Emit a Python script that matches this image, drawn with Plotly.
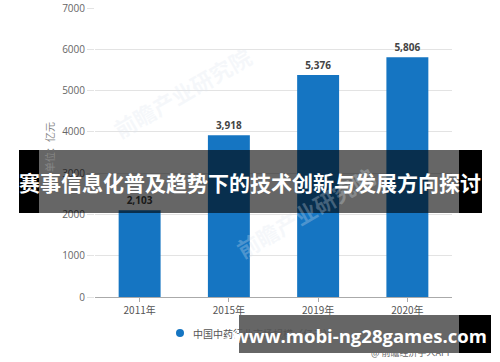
import plotly.graph_objects as go

categories = ["2011年", "2015年", "2019年", "2020年"]
values = [2103, 3918, 5376, 5806]
y_ticks = [0, 1000, 2000, 3000, 4000, 5000, 6000, 7000]
legend_label = "中国中药行业市场规模（亿元）"
y_title = "单位：亿元"
banner_title = "赛事信息化普及趋势下的技术创新与发展方向探讨"
banner_url = "www.mobi-ng28games.com"
source_text = "@ 前瞻经济学人APP"
watermark = "前瞻产业研究院"

W, H = 500, 362
ML, MR, MT, MB = 95, 48, 8, 65
PW, PH = W - ML - MR, H - MT - MB


def px(x):
    return (x - ML) / PW


def py(y):
    return (H - MB - y) / PH


CJK = "Noto Sans CJK SC"
fig = go.Figure()
fig.add_trace(go.Bar(
    x=categories, y=values,
    marker=dict(color="#1575c2", line=dict(width=0)),
    texttemplate="%{y:,}", textposition="outside",
    textfont=dict(family="Open Sans", size=10, color="#444444", weight="bold"),
    cliponaxis=False, showlegend=False,
))

fig.update_layout(
    width=W, height=H,
    margin=dict(l=ML, r=MR, t=MT, b=MB, autoexpand=False),
    paper_bgcolor="white", plot_bgcolor="white",
    bargap=0.53, showlegend=False,
    font=dict(family=CJK, color="#666666", size=10),
    xaxis=dict(
        showline=True, linecolor="#aaaaaa", linewidth=1,
        ticks="outside", ticklen=4, tickcolor="#aaaaaa",
        tickfont=dict(family=CJK, size=10, color="#555555"),
        showgrid=False, automargin=False,
    ),
    yaxis=dict(
        range=[0, 7000], tickvals=y_ticks,
        showgrid=True, gridcolor="#e3e3e3", gridwidth=1,
        ticks="outside", ticklen=7, tickcolor="#e3e3e3",
        tickfont=dict(family="Open Sans", size=10, color="#666666"),
        zeroline=False, showline=False, automargin=False,
    ),
)


def ann(x, y, text, font, angle=0, xa="center", ya="middle"):
    return dict(x=px(x), y=py(y), xref="paper", yref="paper", text=text,
                showarrow=False, textangle=angle, xanchor=xa, yanchor=ya, font=font)


anns = []
# faint watermarks
for (wx, wy) in [(182, 92), (305, 212)]:
    anns.append(ann(wx, wy, watermark,
                    dict(family=CJK, size=22, color="rgba(222,230,240,0.28)", weight="bold"), angle=-30))
anns.append(ann(49, 147, y_title, dict(family=CJK, size=10, color="#888888"), angle=-90))
anns.append(ann(191, 333, legend_label, dict(family=CJK, size=10, color="#555555"), xa="left"))
anns.append(ann(455, 352, source_text, dict(family=CJK, size=9, color="#666666"), xa="right"))

shapes = [
    dict(type="circle", xref="paper", yref="paper", x0=px(176), x1=px(184), y0=py(337), y1=py(329),
         fillcolor="#1575c2", line=dict(width=0), layer="above"),
    # title banner
    dict(type="rect", xref="paper", yref="paper", x0=px(19), x1=px(39), y0=py(213), y1=py(150),
         fillcolor="black", line=dict(width=0), layer="above"),
    dict(type="rect", xref="paper", yref="paper", x0=px(459), x1=px(482), y0=py(213), y1=py(150),
         fillcolor="black", line=dict(width=0), layer="above"),
    dict(type="rect", xref="paper", yref="paper", x0=px(39), x1=px(459), y0=py(213), y1=py(150),
         fillcolor="black", opacity=0.6, line=dict(width=0), layer="above"),
    # url banner
    dict(type="rect", xref="paper", yref="paper", x0=px(239), x1=px(459), y0=py(353), y1=py(315),
         fillcolor="black", opacity=0.6, line=dict(width=0), layer="above"),
    dict(type="rect", xref="paper", yref="paper", x0=px(459), x1=px(491), y0=py(353), y1=py(315),
         fillcolor="black", line=dict(width=0), layer="above"),
]

anns.append(ann(250, 182, banner_title, dict(family=CJK, size=21, color="white", weight="bold")))
anns.append(ann(360, 335, banner_url, dict(family="Open Sans", size=18.5, color="white", weight="bold")))

fig.update_layout(annotations=anns, shapes=shapes)
fig.write_html("out.html", config={"displayModeBar": False},
               post_script="document.body.style.margin='0';document.body.style.overflow='hidden';")
